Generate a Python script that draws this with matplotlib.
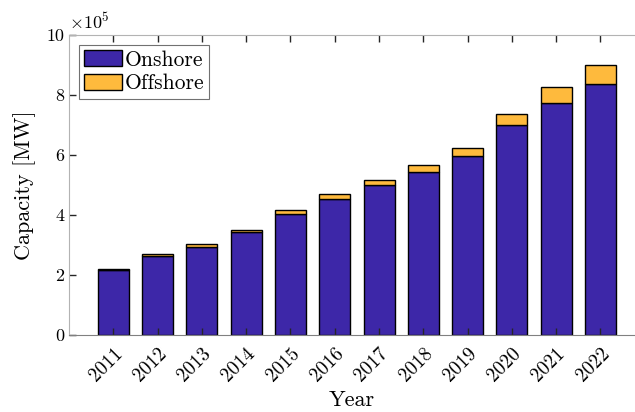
import matplotlib
matplotlib.use("Agg")
import matplotlib.pyplot as plt
from matplotlib.transforms import ScaledTranslation
import numpy as np

plt.rcParams['font.family'] = 'serif'
plt.rcParams['font.serif'] = ['cmr10']
plt.rcParams['mathtext.fontset'] = 'cm'
plt.rcParams['axes.unicode_minus'] = False

# installed wind capacity in MW
years = [2011, 2012, 2013, 2014, 2015, 2016, 2017, 2018, 2019, 2020, 2021, 2022]
onshore = [215500, 262500, 294000, 342000, 404000, 454000, 498000, 542000, 595000, 699000, 773000, 837000]
offshore = [4000, 5500, 7500, 9000, 13500, 14500, 18500, 23000, 29000, 36000, 54000, 63000]

on_color = '#3D27A8'
off_color = '#FEBA3D'

fig = plt.figure(figsize=(6.35, 4.12), dpi=100)
ax = fig.add_axes([0.1087, 0.1876, 0.8913, 0.7275])

x = np.array(years)
ax.bar(x, onshore, width=0.7, color=on_color, edgecolor='black', linewidth=1.0, label='Onshore')
ax.bar(x, offshore, width=0.7, bottom=onshore, color=off_color, edgecolor='black',
       linewidth=1.0, label='Offshore')

ax.set_xlim(2010, 2022.78)
ax.set_ylim(0, 1e6)
ax.set_xticks(years)
ax.set_xticklabels([str(y) for y in years], rotation=45, fontsize=14,
                   ha='right', va='top', rotation_mode='anchor')
# nudge rotated year labels to the right of their ticks
shift = ScaledTranslation(5 / 100, 0, fig.dpi_scale_trans)
for lbl in ax.get_xticklabels():
    lbl.set_transform(lbl.get_transform() + shift)
yt = np.arange(0, 1e6 + 1, 2e5)
ax.set_yticks(yt)
ax.set_yticklabels([str(int(v / 1e5)) for v in yt], fontsize=13)
ax.text(0.0, 1.01, r'$\times10^5$', transform=ax.transAxes, fontsize=13, va='bottom', ha='left')

ax.tick_params(axis='x', direction='in', top=True, bottom=True, length=5, width=1,
               color='#262626', pad=7)
ax.tick_params(axis='y', direction='in', left=True, right=False, length=5, width=1, color='#262626')
for s in ['left', 'top']:
    ax.spines[s].set_color('#b3b3b3')
ax.spines['bottom'].set_color('#808080')
ax.spines['right'].set_visible(False)

ax.set_xlabel('Year', fontsize=16, labelpad=4)
ax.set_ylabel('Capacity [MW]', fontsize=16, labelpad=7)

leg = ax.legend(loc='upper left', fontsize=15.5, fancybox=False, edgecolor='#4d4d4d',
                handlelength=1.75, handleheight=0.75, handletextpad=0.12, borderpad=0.25,
                labelspacing=0.2, borderaxespad=0.45)
leg.get_frame().set_linewidth(0.8)

fig.savefig('out.png', dpi=100)
